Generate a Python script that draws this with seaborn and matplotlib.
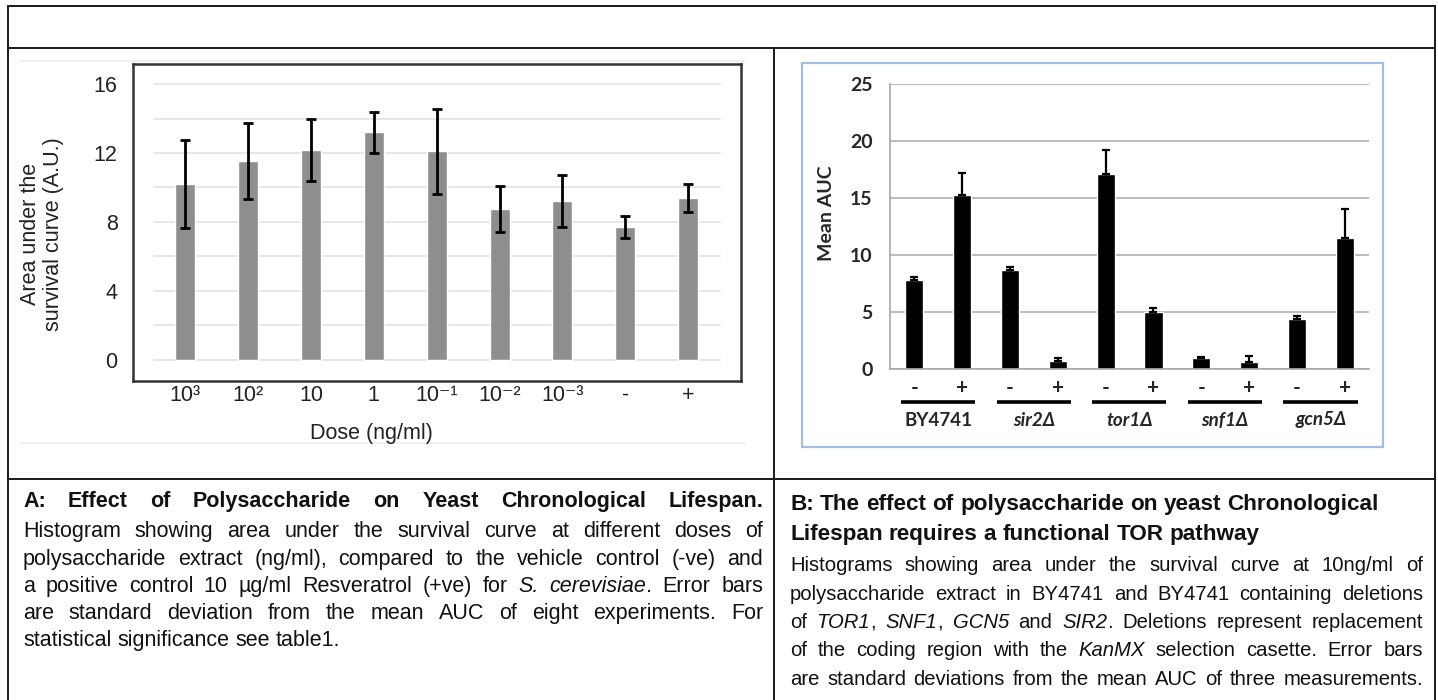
import numpy as np
import pandas as pd
import matplotlib
matplotlib.use("Agg")
import matplotlib.pyplot as plt
import matplotlib.transforms as mtransforms
from matplotlib.lines import Line2D
from matplotlib.patches import Rectangle
import seaborn as sns

# ---- Panel A: AUC at different doses of polysaccharide extract ----
dose_labels = ["10³", "10²", "10", "1", "10⁻¹", "10⁻²", "10⁻³", "-", "+"]
auc_mean = [10.2, 11.55, 12.15, 13.2, 12.1, 8.75, 9.2, 7.7, 9.4]
auc_sd = [2.55, 2.2, 1.8, 1.2, 2.45, 1.35, 1.5, 0.65, 0.8]

# ---- Panel B: AUC for BY4741 and deletion strains, without (-) / with (+) extract ----
strains = ["BY4741", "sir2Δ", "tor1Δ", "snf1Δ", "gcn5Δ"]
treatments = ["-", "+"]
mean_minus = [7.85, 8.7, 17.15, 0.95, 4.45]
mean_plus = [15.25, 0.75, 5.05, 0.6, 11.55]
sd_minus = [0.25, 0.3, 2.1, 0.1, 0.25]
sd_plus = [1.95, 0.2, 0.3, 0.6, 2.55]

W, H = 1438, 700
sns.set_style("white")

SANS = ["Liberation Sans", "DejaVu Sans"]
CAL = ["Lato", "DejaVu Sans"]
plt.rcParams["font.family"] = SANS


def fx(x):
    return x / W


def fy(y):
    return 1 - y / H


fig = plt.figure(figsize=(W / 100, H / 100), dpi=100)
fig.patch.set_facecolor("white")

# ---------------- table rules ----------------
rule = dict(color="#1a1a1a", lw=1.4, transform=fig.transFigure)
for (x0, y0, x1, y1) in [(8, 6, 1435, 6), (8, 48, 1435, 48), (8, 479, 1435, 479),
                         (8, 6, 8, 700), (1435, 6, 1435, 700), (774, 48, 774, 700)]:
    fig.add_artist(Line2D([fx(x0), fx(x1)], [fy(y0), fy(y1)], **rule))

# faint chart-area edges around panel A
for yy in (61, 443):
    fig.add_artist(Line2D([fx(20), fx(745)], [fy(yy), fy(yy)], color="#e9eef6",
                          lw=1.2, transform=fig.transFigure))

# ---------------- Panel A ----------------
axA = fig.add_axes([fx(133), fy(381), fx(741 - 133), (381 - 64) / H])
dfA = pd.DataFrame({"dose": dose_labels, "auc": auc_mean})
sns.barplot(data=dfA, x="dose", y="auc", order=dose_labels, color="#8e8e8e",
            saturation=1, width=0.32, errorbar=None, ax=axA, zorder=2)
axA.errorbar(np.arange(len(dose_labels)), auc_mean, yerr=auc_sd, fmt="none",
             ecolor="black", elinewidth=2, capsize=3.5, capthick=2, zorder=3)
for v in range(0, 17, 2):
    axA.plot([-0.5, 8.5], [v, v], color="#e4e4e4", lw=1.3, zorder=0)
axA.set_xlim(-0.83, 8.84)
axA.set_ylim(-1.22, 17.16)
axA.set_yticks([0, 4, 8, 12, 16])
axA.tick_params(axis="y", length=0, pad=11, labelsize=15.5, colors="#222222")
axA.tick_params(axis="x", length=0, pad=3, labelsize=15.5, colors="#222222")
axA.set_xlabel("")
axA.set_ylabel("")
for s in axA.spines.values():
    s.set_visible(True)
    s.set_color("#333333")
    s.set_linewidth(1.8)
fig.text(fx(42), fy(234), "Area under the\nsurvival curve (A.U.)", rotation=90,
         ha="center", va="center", multialignment="center", fontsize=15.5,
         color="#222222", linespacing=1.1)
fig.text(fx(371), fy(433), "Dose (ng/ml)", ha="center", va="center",
         fontsize=15.5, color="#222222")

# ---------------- Panel B ----------------
fig.add_artist(Rectangle((fx(802), fy(447)), fx(1383 - 802), (447 - 63) / H,
                         fill=False, ec="#a3bfe2", lw=1.6, transform=fig.transFigure))
axB = fig.add_axes([fx(890.5), fy(369.3), fx(1368.6 - 890.5), (369.3 - 84.3) / H])
bar_ids = [f"{s} {t}" for s in strains for t in treatments]
means_b = [m for pair in zip(mean_minus, mean_plus) for m in pair]
sds_b = [d for pair in zip(sd_minus, sd_plus) for d in pair]
dfB = pd.DataFrame({"bar": bar_ids, "auc": means_b})
sns.barplot(data=dfB, x="bar", y="auc", order=bar_ids, color="black",
            saturation=1, width=0.38, errorbar=None, ax=axB, zorder=2)
axB.errorbar(np.arange(len(bar_ids)), means_b, yerr=[np.zeros(len(sds_b)), sds_b],
             fmt="none", ecolor="black", elinewidth=1.6, capsize=3, capthick=1.6, zorder=3)
axB.set_xlim(-0.5, 9.5)
axB.set_ylim(0, 25)
axB.set_yticks([0, 5, 10, 15, 20, 25])
axB.yaxis.grid(True, color="#bcbcbc", lw=1.4)
axB.set_axisbelow(True)
for side in ("top", "right"):
    axB.spines[side].set_visible(False)
for side in ("left", "bottom"):
    axB.spines[side].set_color("#a8a8a8")
    axB.spines[side].set_linewidth(1.2)
axB.set_xticks(np.arange(len(bar_ids)))
axB.set_xticklabels([t for _ in strains for t in treatments])
axB.tick_params(axis="x", length=0, pad=6, labelsize=15)
axB.tick_params(axis="y", length=0, pad=13, labelsize=14)
for lab in axB.get_xticklabels() + axB.get_yticklabels():
    lab.set_fontfamily(CAL)
    lab.set_fontweight("bold")
axB.set_xlabel("")
axB.set_ylabel("")
fig.text(fx(826), fy(213), "Mean AUC", rotation=90, ha="center", va="center",
         fontsize=14, fontweight="bold", family=CAL)
blend = mtransforms.blended_transform_factory(axB.transData, fig.transFigure)
for i, name in enumerate(strains):
    axB.plot([2 * i - 0.28, 2 * i + 1.27], [fy(402), fy(402)], transform=blend,
             color="black", lw=2.6, clip_on=False, solid_capstyle="butt")
    axB.text(2 * i + 0.5, fy(420), name, transform=blend, ha="center", va="center",
             fontsize=13.5, fontweight="bold", family=CAL,
             fontstyle="normal" if i == 0 else "italic")

# ---------------- captions (justified, word by word) ----------------
renderer = fig.canvas.get_renderer()
ident = mtransforms.IdentityTransform()
CAPTION_FONT = SANS


def parse_words(line):
    words, cur, italic = [], [], False
    buf = ""
    for ch in line:
        if ch == "*":
            if buf:
                cur.append((buf, italic))
                buf = ""
            italic = not italic
        elif ch == " ":
            if buf:
                cur.append((buf, italic))
                buf = ""
            if cur:
                words.append(cur)
                cur = []
        else:
            buf += ch
    if buf:
        cur.append((buf, italic))
    if cur:
        words.append(cur)
    return words


def measure(txt, size, weight, italic, family):
    t = fig.text(0, 0, txt, fontsize=size, fontweight=weight,
                 fontstyle="italic" if italic else "normal", family=family,
                 transform=ident)
    w = t.get_window_extent(renderer).width
    t.remove()
    return w


def draw_line(line, x0, x1, ybase, size, weight="normal", justify=True,
              family=CAPTION_FONT, color="#111111"):
    words = parse_words(line)
    widths = []
    for word in words:
        widths.append([measure(p, size, weight, it, family) for p, it in word])
    space = measure("x x", size, weight, False, family) - measure("xx", size, weight, False, family)
    total = sum(sum(w) for w in widths)
    if justify and len(words) > 1:
        gap = (x1 - x0 - total) / (len(words) - 1)
    else:
        gap = space
    x = x0
    yb = H - ybase
    for word, ws in zip(words, widths):
        for (p, it), w in zip(word, ws):
            fig.text(x, yb, p, fontsize=size, fontweight=weight,
                     fontstyle="italic" if it else "normal", family=family,
                     transform=ident, ha="left", va="baseline", color=color)
            x += w
        x += gap


cap_a = [
    ("A: Effect of Polysaccharide on Yeast Chronological Lifespan.", "bold", True, 507),
    ("Histogram showing area under the survival curve at different doses of", "normal", True, 537),
    ("polysaccharide extract (ng/ml), compared to the vehicle control (-ve) and", "normal", True, 565),
    ("a positive control 10 µg/ml Resveratrol (+ve) for *S. cerevisiae*.  Error bars", "normal", True, 592),
    ("are standard deviation from the mean AUC of eight experiments. For", "normal", True, 619),
    ("statistical significance see table1.", "normal", False, 646),
]
for txt, wt, jus, yb in cap_a:
    draw_line(txt, 23, 763, yb, 15.5, wt, jus)

cap_b_head = ["B: The effect of polysaccharide on yeast Chronological",
              "Lifespan requires a functional TOR pathway"]
for k, txt in enumerate(cap_b_head):
    draw_line(txt, 790, 1423, 510 + 30 * k, 16.2, "bold", False)

cap_b = [
    "Histograms showing area under the survival curve at 10ng/ml of",
    "polysaccharide extract in BY4741 and BY4741 containing deletions",
    "of *TOR1*, *SNF1*, *GCN5* and *SIR2*. Deletions represent replacement",
    "of the coding region with the *KanMX* selection casette.  Error bars",
    "are standard deviations from the mean AUC of three measurements.",
]
for k, txt in enumerate(cap_b):
    draw_line(txt, 790, 1423, 571 + 28.5 * k, 14.6, "normal", True)

fig.savefig("out.png", dpi=100)
